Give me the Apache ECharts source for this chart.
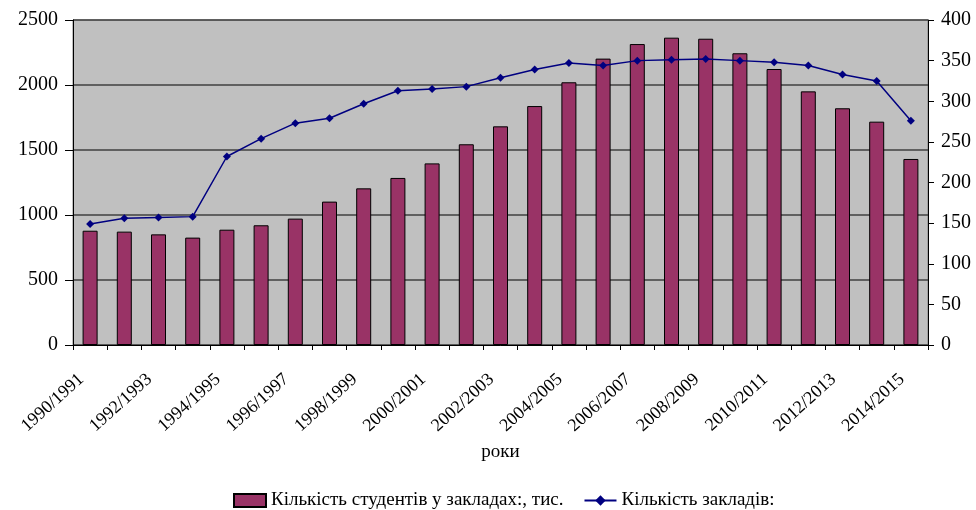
<!DOCTYPE html>
<html>
<head>
<meta charset="utf-8">
<script src="https://cdn.jsdelivr.net/npm/echarts@6/dist/echarts.min.js"></script>
<style>html,body{margin:0;padding:0;background:#fff}#c{width:976px;height:510px}</style>
</head>
<body>
<div id="c"></div>
<script>
const categories = ['1990/1991','1991/1992','1992/1993','1993/1994','1994/1995','1995/1996','1996/1997','1997/1998','1998/1999','1999/2000','2000/2001','2001/2002','2002/2003','2003/2004','2004/2005','2005/2006','2006/2007','2007/2008','2008/2009','2009/2010','2010/2011','2011/2012','2012/2013','2013/2014','2014/2015'];
const students = [879,872,851,826,887,921,972,1103,1205,1285,1397,1544,1682,1838,2021,2203,2315,2364,2356,2244,2123,1951,1821,1718,1431];
const institutions = [149,156,157,158,232,254,273,279,297,313,315,318,329,339,347,344,350,351,352,350,348,344,333,325,276];
const leftTicks = {min:0, max:2500, interval:500};
const rightTicks = {min:0, max:400, interval:50};

const FONT = '"Liberation Serif", "Times New Roman", serif';
const chart = echarts.init(document.getElementById('c'));
chart.setOption({
  animation: false,
  textStyle: {fontFamily: FONT, color: '#000'},
  grid: {left: 73, right: 48, top: 20, bottom: 165, show: true, backgroundColor: '#c0c0c0', borderColor: '#808080', borderWidth: 1},
  legend: {
    top: 486, left: 228, itemGap: 20, itemWidth: 32, itemHeight: 13,
    textStyle: {fontFamily: FONT, fontSize: 19, color: '#000'},
    data: [
      {name: 'Кількість студентів у закладах:, тис.', icon: 'rect'},
      {name: 'Кількість закладів:'}
    ]
  },
  xAxis: {
    type: 'category', data: categories, boundaryGap: true,
    name: 'роки', nameLocation: 'middle', nameGap: 98,
    nameTextStyle: {fontFamily: FONT, fontSize: 19, color: '#000'},
    axisLine: {lineStyle: {color: '#000', width: 1}},
    axisTick: {show: true, interval: 0, length: 5, lineStyle: {color: '#000'}},
    axisLabel: {interval: 1, rotate: 42, fontFamily: FONT, fontSize: 18, color: '#000', margin: 24, padding: [0, 12, 0, 0]},
    splitLine: {show: false}
  },
  yAxis: [
    {
      type: 'value', min: leftTicks.min, max: leftTicks.max, interval: leftTicks.interval,
      axisLine: {show: true, lineStyle: {color: '#000'}},
      axisTick: {show: true, length: 8, lineStyle: {color: '#000'}},
      axisLabel: {fontFamily: FONT, fontSize: 20, color: '#000', margin: 15, formatter: v => String(v)},
      splitLine: {show: true, lineStyle: {color: '#404040', width: 1.5}}
    },
    {
      type: 'value', min: rightTicks.min, max: rightTicks.max, interval: rightTicks.interval,
      position: 'right',
      axisLine: {show: true, lineStyle: {color: '#000'}},
      axisTick: {show: true, length: 6, lineStyle: {color: '#000'}},
      axisLabel: {fontFamily: FONT, fontSize: 20, color: '#000', margin: 13, formatter: v => String(v)},
      splitLine: {show: false}
    }
  ],
  series: [
    {
      name: 'Кількість студентів у закладах:, тис.', type: 'bar', yAxisIndex: 0,
      data: students, barWidth: 15,
      itemStyle: {color: '#993366', borderColor: '#000', borderWidth: 1}
    },
    {
      name: 'Кількість закладів:', type: 'line', yAxisIndex: 1,
      data: institutions, symbol: 'diamond', symbolSize: 8,
      lineStyle: {color: '#000080', width: 1.5},
      itemStyle: {color: '#000080'}
    }
  ]
});
</script>
</body>
</html>
